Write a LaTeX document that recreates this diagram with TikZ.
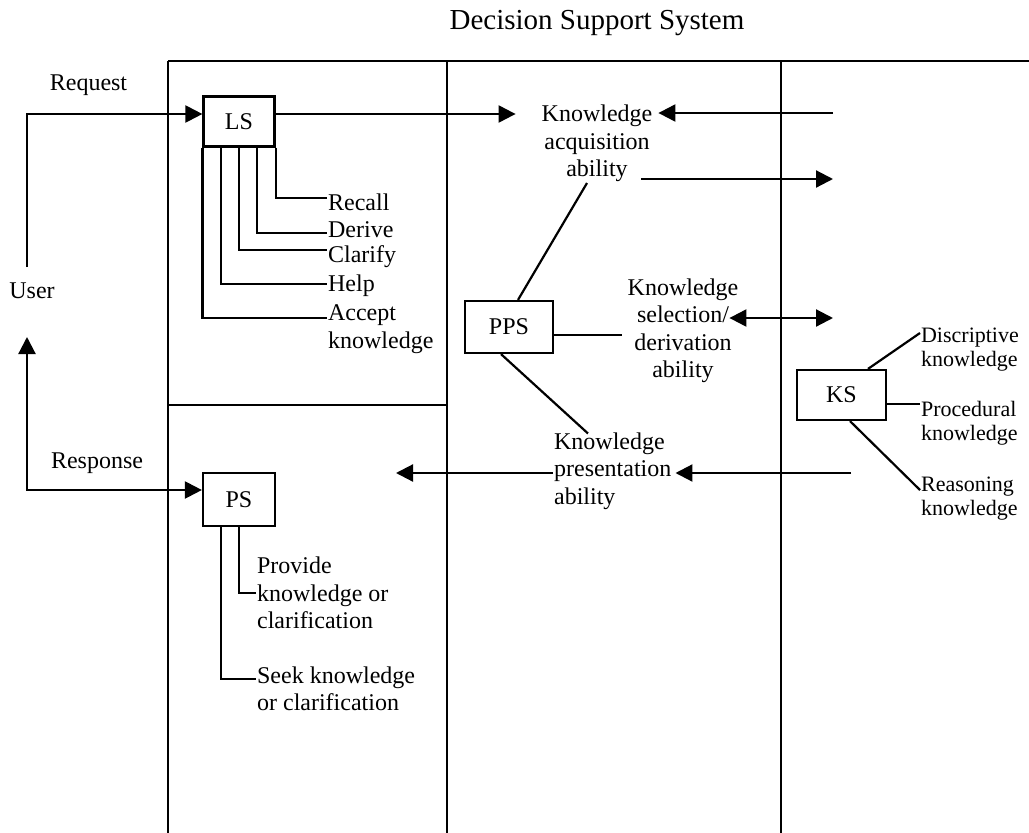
\documentclass[tikz,border=0pt]{standalone}
\usepackage{fontspec}
\setmainfont{Liberation Serif}
\usetikzlibrary{arrows.meta}
\begin{document}
\begin{tikzpicture}[x=1pt,y=-1pt,line width=2.2pt,
  txt/.style={inner sep=0pt,font=\fontsize{24}{27.5}\selectfont},
  small/.style={inner sep=0pt,font=\fontsize{22}{24}\selectfont,align=left,anchor=west},
  box/.style={draw,inner sep=0pt,font=\fontsize{24}{27.5}\selectfont},
  arr/.style={-{Triangle[length=17pt,width=17pt]}},
  arrboth/.style={{Triangle[length=17pt,width=17pt]}-{Triangle[length=17pt,width=17pt]}}]
\useasboundingbox (0,0) rectangle (1029,833);
\fill[white] (0,0) rectangle (1029,833);
% title
\node[inner sep=0pt,font=\fontsize{29}{32}\selectfont] (title) at (597,23) {Decision Support System};
% frame
\coordinate (f1) at (168,61);
\coordinate (f2) at (1029,61);
\coordinate (f3) at (447,61);
\coordinate (f4) at (781,61);
\coordinate (b1) at (168,833);
\coordinate (b2) at (447,833);
\coordinate (b3) at (781,833);
\coordinate (m1) at (168,405);
\coordinate (m2) at (447,405);
\draw (f1) -- (f2);
\draw (f1) -- (b1);
\draw (f3) -- (b2);
\draw (f4) -- (b3);
\draw (m1) -- (m2);
% boxes
\node[box,minimum width=71pt,minimum height=50pt] (LS) at (239,121.5) {LS};
\node[box,minimum width=72pt,minimum height=53pt] (PS) at (239,499.5) {PS};
\node[box,minimum width=88pt,minimum height=52pt] (PPS) at (509,327) {PPS};
\node[box,minimum width=89pt,minimum height=50pt] (KS) at (841.5,395) {KS};
% user side labels
\node[txt] (user) at (32,291) {User};
\node[txt] (request) at (88.5,85) {Request};
\node[txt] (response) at (97,463) {Response};
\coordinate (u1) at (27,267);
\coordinate (u2) at (27,337);
\draw[arr] (u1) |- ([yshift=7.5pt]LS.west);
\draw[arrboth] (u2) |- ([yshift=9.5pt]PS.west);
% LS functions
\node[txt,anchor=west] (recall) at (327,202) {Recall};
\node[txt,anchor=west] (derive) at (327,230) {Derive};
\node[txt,anchor=west] (clarify) at (327,257) {Clarify};
\node[txt,anchor=west] (help) at (327,286) {Help};
\node[txt,anchor=west,align=left] (accept) at (327,329) {Accept\\knowledge};
\draw (LS.south east) |- ([yshift=4pt]recall.west);
\draw ([xshift=18pt]LS.south) |- ([yshift=-3pt]derive.west);
\draw (LS.south) |- ([yshift=7pt]clarify.west);
\draw ([xshift=-18pt]LS.south) |- ([yshift=2pt]help.west);
\draw (LS.south west) |- ([yshift=11pt]accept.west);
% PS functions
\node[txt,anchor=west,align=left] (provide) at (256,593) {Provide\\knowledge or\\clarification};
\node[txt,anchor=west,align=left] (seek) at (256,689) {Seek knowledge\\or clarification};
\draw (PS.south) |- (provide.west);
\draw ([xshift=-18pt]PS.south) |- ([yshift=10pt]seek.west);
% PPS abilities
\node[txt,align=center] (acq) at (597,143.5) {Knowledge\\acquisition\\ability};
\node[txt,align=center] (sel) at (683,331) {Knowledge\\selection/\\derivation\\ability};
\node[txt,anchor=west,align=left] (pres) at (553,471) {Knowledge\\presentation\\ability};
\coordinate (r1) at (833,113);
\coordinate (r2) at (833,179);
\coordinate (r3) at (833,318);
\coordinate (r4) at (851,473);
\coordinate (l4) at (396,473);
\draw[arr,shorten >=25pt] ([yshift=7.5pt]LS.east) -- ([yshift=7.5pt]LS.east -| acq.west);
\draw[arr,shorten >=5pt] (r1) -- (r1 -| acq.east);
\draw[arr] ([xshift=-12pt]r2 -| acq.east) -- (r2);
\draw[arrboth] ([xshift=-10pt]r3 -| sel.east) -- (r3);
\draw[arr,shorten >=3pt] (r4) -- (r4 -| pres.east);
\draw[arr] (r4 -| pres.west) -- (l4);
\draw ([xshift=9pt]PPS.north) -- ([xshift=-10pt]acq.south);
\draw[shorten >=5pt] ([yshift=-8pt]PPS.east) -- ([yshift=-8pt]PPS.east -| sel.west);
\draw ([xshift=-8pt]PPS.south) -- ([xshift=35pt,yshift=-2pt]pres.north west);
% KS knowledge
\node[small] (disc) at (920,350) {Discriptive\\knowledge};
\node[small] (proc) at (920,423.5) {Procedural\\knowledge};
\node[small] (reas) at (920,498.5) {Reasoning\\knowledge};
\draw ([xshift=26.5pt]KS.north) -- ([yshift=17pt]disc.west);
\draw ([yshift=-9pt]KS.east) -- ([yshift=-9pt]KS.east -| proc.west);
\draw ([xshift=8.5pt]KS.south) -- ([yshift=8.5pt]reas.west);
\end{tikzpicture}
\end{document}
